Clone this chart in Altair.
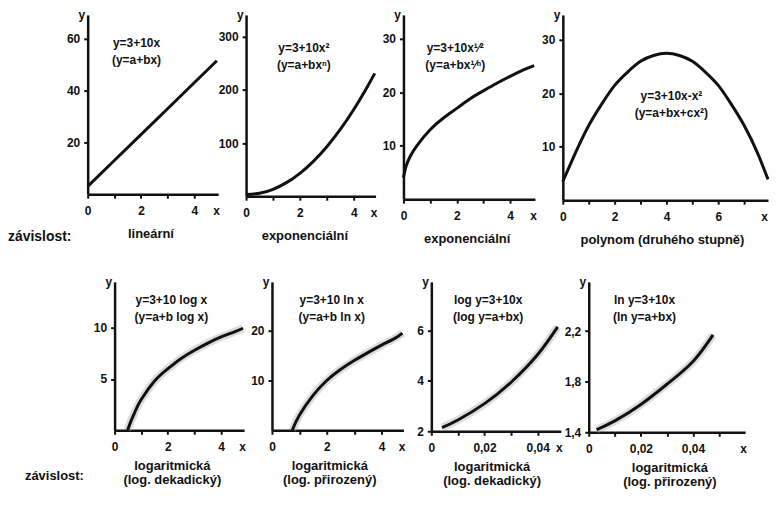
import altair as alt
import pandas as pd

FONT = "Liberation Sans"
INK = "#111111"

# ---------------- data ----------------
p1_x = [0, 1, 2, 3, 4, 4.85]
p1_y = [3, 13, 23, 33, 43, 51.5]

p2_x = [0, 0.5, 1, 1.5, 2, 2.5, 3, 3.5, 4, 4.5, 4.78]
p2_y = [3, 5.5, 13, 25.5, 43, 65.5, 93, 125.5, 163, 205.5, 231]

p3_x = [0, 0.1, 0.25, 0.5, 1, 1.5, 2, 2.5, 3, 3.5, 4, 4.5, 4.9]
p3_y = [4, 6.2, 8, 10, 13, 15.2, 17, 18.8, 20.3, 21.7, 23, 24.2, 25]

p4_x = [0, 0.5, 1, 1.5, 2, 2.5, 3, 3.5, 4, 4.5, 5, 5.5, 6, 6.5, 7, 7.5, 7.92]
p4_y = [3.5, 9, 14, 18, 21.5, 24, 26, 27.1, 27.5, 27.1, 26, 24, 21.5, 18, 14, 9, 3.9]

p5_x = [0.49, 0.6, 0.8, 1, 1.5, 2, 2.5, 3, 3.5, 4, 4.5, 4.82]
p5_y = [0, 0.8, 2, 3, 4.8, 6, 7, 7.8, 8.5, 9.1, 9.6, 9.95]

p6_x = [0.74, 1, 1.5, 2, 2.5, 3, 3.5, 4, 4.5, 4.76]
p6_y = [0, 3, 7, 10, 12.2, 14, 15.6, 17.1, 18.5, 19.5]

p7_x = [0.004, 0.01, 0.02, 0.03, 0.04, 0.0475]
p7_y = [2.15, 2.45, 3.1, 3.95, 5.05, 6.15]

p8_x = [0.003, 0.01, 0.02, 0.03, 0.04, 0.0477]
p8_y = [1.42, 1.49, 1.62, 1.78, 1.96, 2.17]

# tick values
xt_5 = [0, 1, 2, 3, 4]
xt_8 = [0, 1, 2, 3, 4, 5, 6, 7]
xt_p7 = [0, 0.01, 0.02, 0.03, 0.04]
xt_p8 = [0, 0.01, 0.02, 0.03, 0.04, 0.05]
yt_p1 = [20, 40, 60]
yt_p2 = [100, 200, 300]
yt_p3 = [10, 20, 30]
yt_p4 = [10, 20, 30]
yt_p5 = [5, 10]
yt_p6 = [10, 20]
yt_p7 = [2, 4, 6]
yt_p8 = [1.4, 1.8, 2.2]

# texts
formulas = [
    "y=3+10x\n(y=a+bx)",
    "y=3+10x²\n(y=a+bxⁿ)",
    "y=3+10x¹⁄²\n(y=a+bx¹⁄ⁿ)",
    "y=3+10x-x²\n(y=a+bx+cx²)",
    "y=3+10 log x\n(y=a+b log x)",
    "y=3+10 ln x\n(y=a+b ln x)",
    "log y=3+10x\n(log y=a+bx)",
    "ln y=3+10x\n(ln y=a+bx)",
]
categories = [
    ["lineární"],
    ["exponenciální"],
    ["exponenciální"],
    ["polynom (druhého stupně)"],
    ["logaritmická", "(log. dekadický)"],
    ["logaritmická", "(log. přirozený)"],
    ["logaritmická", "(log. dekadický)"],
    ["logaritmická", "(log. přirozený)"],
]
row_label = "závislost:"

EVEN = "datum.value % 2 === 0 ? datum.label : ''"
SMALL = ("datum.value === 0 ? '0' : (round(datum.value*100) % 2 === 0 ? "
         "replace(format(datum.value, '.2f'), '.', ',') : '')")
COMMA1 = "replace(format(datum.value, '.1f'), '.', ',')"


def panel(xs, ys, w, h, xdom, ydom, xticks, yticks, xexpr, yexpr,
          formula, fx, fy, category, cat_dx, cat_offset, halo, interp="natural",
          xtitle_x=None):
    df = pd.DataFrame({"x": xs, "y": ys})
    xaxis = alt.Axis(values=xticks, labelExpr=xexpr, title="x", titleAngle=0,
                     titleX=(w - 2) if xtitle_x is None else xtitle_x, titleY=11,
                     titleAlign="center", titleBaseline="top")
    yargs = dict(values=yticks, title="y", titleAngle=0, titleX=-3, titleY=-5,
                 titleAlign="right", titleBaseline="top")
    if yexpr:
        yargs["labelExpr"] = yexpr
    yaxis = alt.Axis(**yargs)
    xenc = alt.X("x:Q", scale=alt.Scale(domain=xdom, nice=False, zero=False),
                 axis=xaxis)
    yenc = alt.Y("y:Q", scale=alt.Scale(domain=ydom, nice=False, zero=False),
                 axis=yaxis)
    layers = []
    if halo:
        layers.append(alt.Chart(df).mark_line(color="#9a9a9a", strokeWidth=8,
                                              opacity=0.35, interpolate=interp)
                      .encode(x=xenc, y=yenc))
    layers.append(alt.Chart(df).mark_line(color=INK, strokeWidth=3,
                                          interpolate=interp)
                  .encode(x=xenc, y=yenc))
    tdf = pd.DataFrame({"t": [formula]})
    layers.append(alt.Chart(tdf).mark_text(font=FONT, fontSize=12, fontWeight="bold",
                                           color=INK, align="center", baseline="top",
                                           lineBreak="\n", lineHeight=17)
                  .encode(x=alt.value(fx), y=alt.value(fy), text="t:N"))
    return alt.layer(*layers).properties(
        width=w, height=h,
        title=alt.TitleParams(category, orient="bottom", anchor="middle",
                              frame="group", baseline="top", offset=cat_offset,
                              dx=cat_dx, font=FONT, fontSize=13,
                              fontWeight="bold", color=INK, lineHeight=14))


def spacer(w, h, x, y, size):
    sdf = pd.DataFrame({"t": [row_label]})
    visible = alt.Chart(sdf).mark_text(font=FONT, fontSize=size, fontWeight="bold",
                                       color=INK, align="left", baseline="middle").encode(
        x=alt.value(x), y=alt.value(y), text="t:N")
    # transparent copy at the left edge keeps the row's left bound fixed
    anchor = alt.Chart(sdf).mark_text(font=FONT, fontSize=size, fontWeight="bold",
                                      opacity=0, align="left", baseline="middle").encode(
        x=alt.value(0), y=alt.value(y), text="t:N")
    return alt.layer(anchor, visible).properties(width=w, height=h)


p1 = panel(p1_x, p1_y, 131, 180, [0, 4.9], [0, 69.2], xt_5, yt_p1, EVEN, None,
           formulas[0], 49, 23, categories[0], -2, 12, False, "linear")
p2 = panel(p2_x, p2_y, 130, 182, [0, 4.81], [0, 341], xt_5, yt_p2, EVEN, None,
           formulas[1], 58, 28, categories[1], -6, 12, False)
p3 = panel(p3_x, p3_y, 132, 185, [0, 4.93], [0, 34.5], xt_5, yt_p3, EVEN, None,
           formulas[2], 52, 28, categories[2], -2, 12, False)
p4 = panel(p4_x, p4_y, 206, 186, [0, 7.92], [0, 34.7], xt_8, yt_p4, EVEN, None,
           formulas[3], 109, 76, categories[3], -3, 12, False, xtitle_x=202)

p5 = panel(p5_x, p5_y, 130, 149, [0, 4.86], [0, 14.47], xt_5, yt_p5, EVEN, None,
           formulas[4], 57, 13, categories[4], -7, 8, True)
p6 = panel(p6_x, p6_y, 132, 149, [0, 4.8], [0, 29.8], xt_5, yt_p6, EVEN, None,
           formulas[5], 60, 13, categories[5], -8, 8, True)
p7 = panel(p7_x, p7_y, 130, 150, [0, 0.0487], [2, 7.94], xt_p7, yt_p7, SMALL, None,
           formulas[6], 57, 13, categories[6], -4, 8, True)
p8 = panel(p8_x, p8_y, 157, 151, [0, 0.06], [1.4, 2.59], xt_p8, yt_p8, SMALL, COMMA1,
           formulas[7], 56, 13, categories[7], 3, 8, True)

sp_top = spacer(52, 186, 0, 223, 14)
sp_bot = spacer(79, 151, 17, 195, 13)

top_row = alt.hconcat(sp_top, p1, p2, p3, p4, spacing=28, bounds="flush")
bottom_row = alt.hconcat(sp_bot, p5, p6, p7, p8, spacing=28, bounds="flush")

chart = alt.vconcat(top_row, bottom_row, spacing=29).properties(
    padding=0, background="white"
).configure_view(stroke=None).configure_axis(
    grid=False, domainColor=INK, domainWidth=2.5, tickColor=INK, tickWidth=2,
    tickSize=4, labelFont=FONT, labelFontSize=12, labelFontWeight="bold",
    labelColor=INK, titleFont=FONT, titleFontSize=12, titleFontWeight="bold",
    titleColor=INK, labelOverlap=False, labelFlush=False
).configure_axisX(labelPadding=7).configure_axisY(labelPadding=4)

chart.save("out.html", embed_options={"renderer": "svg", "actions": False})
